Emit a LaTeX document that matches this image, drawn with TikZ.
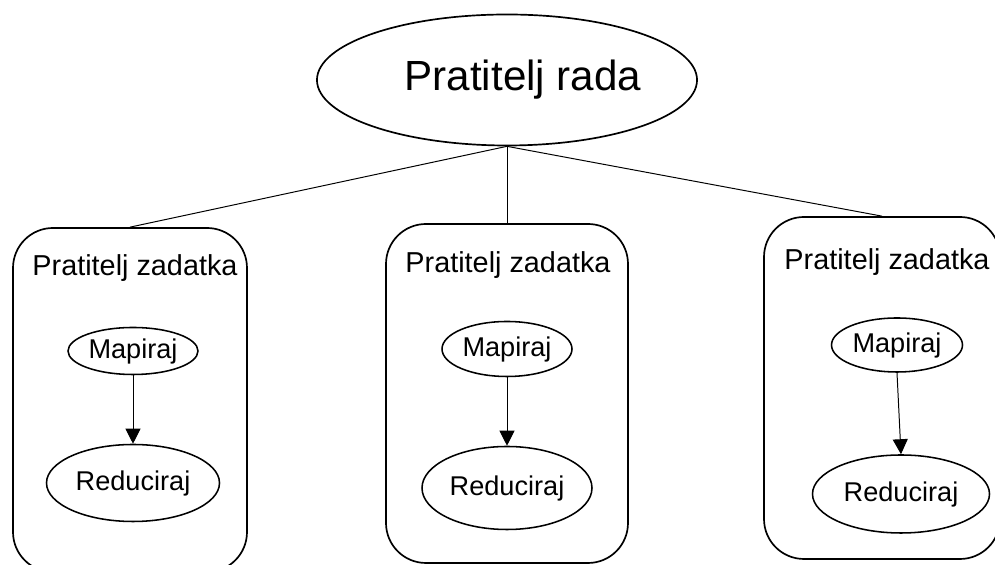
\documentclass[tikz,border=0pt]{standalone}
\usepackage{fontspec}
\setmainfont{Liberation Sans}
\usetikzlibrary{shapes.geometric,arrows.meta}

\begin{document}
\begin{tikzpicture}[
                % Oblici cvorova
                tracker/.style={draw, line width=1.2pt, rounded corners=1cm, inner sep=0pt},
                phase/.style={draw, ellipse, line width=1.1pt, inner sep=0pt, font=\fontsize{19.3}{23}\selectfont},
                heading/.style={inner sep=0pt, font=\fontsize{20.5}{24}\selectfont},
                link/.style={line width=0.7pt},
                arrow/.style={-{Triangle[length=0.375cm, width=0.375cm]}, line width=0.7pt}
            ]
                \useasboundingbox (0,0) rectangle (24.875,14.125);

                % Pratitelj rada
                \node[draw, ellipse, line width=1.2pt, inner sep=0pt, minimum width=9.225cm, minimum height=3.275cm,
                      font=\fontsize{30}{36}\selectfont] (job) at (12.675,12.125) {\hspace*{0.8cm}Pratitelj rada};

                % Pratitelji zadataka
                \node[tracker, minimum width=5.85cm, minimum height=8.6cm] (T1) at (3.25,4.125) {};
                \node[tracker, minimum width=6.05cm, minimum height=8.475cm] (T2) at (12.675,4.2875) {};
                \node[tracker, minimum width=5.9cm, minimum height=8.55cm] (T3) at (22.05,4.425) {};

                \node[heading] (T1-h) at (3.375,7.425) {Pratitelj zadatka};
                \node[heading] (T2-h) at (12.7,7.5) {Pratitelj zadatka};
                \node[heading] (T3-h) at (22.175,7.575) {Pratitelj zadatka};

                % Faze
                \node[phase, minimum width=3.25cm, minimum height=1.175cm] (M1) at (3.325,5.35) {Mapiraj};
                \node[phase, minimum width=4.325cm, minimum height=1.925cm] (R1) at (3.325,2.05) {Reduciraj};
                \node[phase, minimum width=3.25cm, minimum height=1.375cm] (M2) at (12.675,5.4) {Mapiraj};
                \node[phase, minimum width=4.25cm, minimum height=2.075cm] (R2) at (12.675,1.925) {Reduciraj};
                \node[phase, minimum width=3.275cm, minimum height=1.35cm] (M3) at (22.425,5.5) {Mapiraj};
                \node[phase, minimum width=4.425cm, minimum height=1.95cm] (R3) at (22.525,1.775) {Reduciraj};

                % Veze
                \draw[link] (job.south) -- (T1.north);
                \draw[link] (job.south) -- (T2.north);
                \draw[link] (job.south) -- (T3.north);
                \draw[arrow] (M1.south) -- (R1.north);
                \draw[arrow] (M2.south) -- (R2.north);
                \draw[arrow] (M3.south) -- (R3.north);

            \end{tikzpicture}
\end{document}
